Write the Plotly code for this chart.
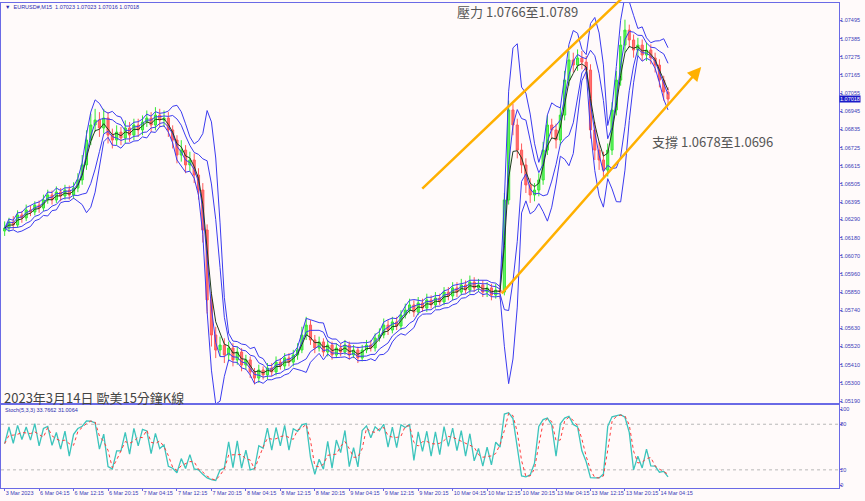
import plotly.graph_objects as go
import pandas as pd

# ---- data (hourly samples) ----
candle_idx = list(range(155))
close = [1.06238, 1.06274, 1.06256, 1.06317, 1.06299, 1.06347, 1.06335, 1.06377, 1.06359, 1.06408,
         1.06438, 1.06408, 1.06456, 1.06432, 1.06468, 1.06438, 1.06480, 1.06529, 1.06620, 1.06771,
         1.06862, 1.06892, 1.06844, 1.06904, 1.06801, 1.06771, 1.06819, 1.06783, 1.06844, 1.06801,
         1.06862, 1.06832, 1.06880, 1.06904, 1.06862, 1.06922, 1.06892, 1.06904, 1.06832, 1.06771,
         1.06680, 1.06710, 1.06620, 1.06650, 1.06559, 1.06468, 1.06226, 1.05802, 1.05590, 1.05499,
         1.05529, 1.05469, 1.05511, 1.05439, 1.05487, 1.05408, 1.05439, 1.05366, 1.05329, 1.05378,
         1.05348, 1.05390, 1.05366, 1.05426, 1.05402, 1.05451, 1.05426, 1.05469, 1.05499, 1.05590,
         1.05650, 1.05560, 1.05511, 1.05548, 1.05487, 1.05529, 1.05469, 1.05511, 1.05487, 1.05529,
         1.05469, 1.05499, 1.05451, 1.05499, 1.05529, 1.05511, 1.05572, 1.05590, 1.05650, 1.05620,
         1.05669, 1.05644, 1.05711, 1.05741, 1.05772, 1.05729, 1.05784, 1.05753, 1.05802, 1.05772,
         1.05814, 1.05790, 1.05850, 1.05826, 1.05875, 1.05850, 1.05893, 1.05862, 1.05911, 1.05875,
         1.05893, 1.05850, 1.05875, 1.05832, 1.05862, 1.05850, 1.06408, 1.06953, 1.06862, 1.06710,
         1.06620, 1.06499, 1.06438, 1.06468, 1.06529, 1.06710, 1.06862, 1.06832, 1.06771, 1.06922,
         1.07134, 1.07256, 1.07225, 1.07268, 1.07243, 1.07195, 1.06832, 1.06710, 1.06650, 1.06589,
         1.06710, 1.06953, 1.07134, 1.07346, 1.07437, 1.07377, 1.07316, 1.07346, 1.07286, 1.07316,
         1.07268, 1.07225, 1.07134, 1.07062, 1.07019]
high = [1.06278, 1.06300, 1.06310, 1.06345, 1.06340, 1.06380, 1.06375, 1.06400, 1.06405, 1.06440,
        1.06470, 1.06465, 1.06490, 1.06480, 1.06500, 1.06495, 1.06515, 1.06570, 1.06680, 1.06830,
        1.06930, 1.06960, 1.06940, 1.06960, 1.06940, 1.06840, 1.06860, 1.06850, 1.06890, 1.06880,
        1.06900, 1.06900, 1.06920, 1.06950, 1.06940, 1.06970, 1.06960, 1.06950, 1.06940, 1.06860,
        1.06800, 1.06770, 1.06740, 1.06700, 1.06690, 1.06600, 1.06510, 1.06260, 1.05850, 1.05640,
        1.05580, 1.05570, 1.05550, 1.05540, 1.05520, 1.05510, 1.05470, 1.05460, 1.05390, 1.05410,
        1.05400, 1.05420, 1.05420, 1.05460, 1.05450, 1.05480, 1.05480, 1.05500, 1.05540, 1.05640,
        1.05700, 1.05680, 1.05590, 1.05580, 1.05570, 1.05560, 1.05550, 1.05540, 1.05540, 1.05560,
        1.05550, 1.05530, 1.05520, 1.05530, 1.05560, 1.05560, 1.05600, 1.05630, 1.05690, 1.05680,
        1.05700, 1.05700, 1.05740, 1.05780, 1.05810, 1.05800, 1.05820, 1.05810, 1.05840, 1.05830,
        1.05850, 1.05840, 1.05880, 1.05880, 1.05910, 1.05910, 1.05930, 1.05920, 1.05950, 1.05940,
        1.05930, 1.05920, 1.05910, 1.05900, 1.05900, 1.05900, 1.06450, 1.07010, 1.06990, 1.06900,
        1.06750, 1.06660, 1.06540, 1.06510, 1.06570, 1.06760, 1.06920, 1.06900, 1.06870, 1.06970,
        1.07190, 1.07310, 1.07300, 1.07320, 1.07310, 1.07280, 1.07230, 1.06880, 1.06760, 1.06700,
        1.06750, 1.07000, 1.07190, 1.07400, 1.07500, 1.07470, 1.07410, 1.07390, 1.07380, 1.07360,
        1.07350, 1.07300, 1.07260, 1.07160, 1.07090]
low = [1.06190, 1.06215, 1.06230, 1.06240, 1.06270, 1.06280, 1.06310, 1.06315, 1.06330, 1.06340,
       1.06385, 1.06380, 1.06390, 1.06400, 1.06410, 1.06410, 1.06415, 1.06455, 1.06500, 1.06590,
       1.06740, 1.06820, 1.06790, 1.06810, 1.06750, 1.06720, 1.06740, 1.06740, 1.06750, 1.06760,
       1.06770, 1.06790, 1.06800, 1.06850, 1.06820, 1.06830, 1.06850, 1.06850, 1.06790, 1.06720,
       1.06630, 1.06640, 1.06570, 1.06580, 1.06510, 1.06410, 1.06150, 1.05720, 1.05520, 1.05450,
       1.05460, 1.05420, 1.05430, 1.05400, 1.05410, 1.05370, 1.05380, 1.05330, 1.05290, 1.05300,
       1.05320, 1.05320, 1.05340, 1.05345, 1.05380, 1.05380, 1.05400, 1.05400, 1.05440, 1.05480,
       1.05560, 1.05530, 1.05480, 1.05490, 1.05460, 1.05460, 1.05440, 1.05450, 1.05460, 1.05470,
       1.05440, 1.05450, 1.05420, 1.05430, 1.05480, 1.05490, 1.05490, 1.05550, 1.05570, 1.05590,
       1.05600, 1.05620, 1.05620, 1.05690, 1.05720, 1.05700, 1.05710, 1.05730, 1.05730, 1.05750,
       1.05750, 1.05770, 1.05770, 1.05800, 1.05800, 1.05820, 1.05830, 1.05840, 1.05840, 1.05850,
       1.05850, 1.05820, 1.05820, 1.05800, 1.05810, 1.05810, 1.05830, 1.06380, 1.06800, 1.06660,
       1.06570, 1.06450, 1.06390, 1.06400, 1.06430, 1.06500, 1.06680, 1.06780, 1.06720, 1.06740,
       1.06890, 1.07100, 1.07180, 1.07190, 1.07200, 1.07140, 1.06780, 1.06650, 1.06590, 1.06540,
       1.06550, 1.06680, 1.06920, 1.07100, 1.07300, 1.07330, 1.07270, 1.07280, 1.07250, 1.07250,
       1.07230, 1.07180, 1.07090, 1.07010, 1.06990]
first_open = 1.06220

tick_pos = [0, 8, 16, 24, 32, 40, 48, 56, 64, 72, 80, 88, 96, 104, 112, 120, 128, 136, 144, 152]
tick_text = ["3 Mar 2023", "6 Mar 04:15", "6 Mar 12:15", "6 Mar 20:15", "7 Mar 04:15", "7 Mar 12:15",
             "7 Mar 20:15", "8 Mar 04:15", "8 Mar 12:15", "8 Mar 20:15", "9 Mar 04:15", "9 Mar 12:15",
             "9 Mar 20:15", "10 Mar 04:15", "10 Mar 12:15", "10 Mar 20:15", "13 Mar 04:15",
             "13 Mar 12:15", "13 Mar 20:15", "14 Mar 04:15"]
price_ticks = [1.05190, 1.05300, 1.05410, 1.05520, 1.05630, 1.05740, 1.05850, 1.05960, 1.06070,
               1.06180, 1.06290, 1.06395, 1.06505, 1.06615, 1.06725, 1.06835, 1.06945, 1.07055,
               1.07165, 1.07275, 1.07385, 1.07495]
stoch_ticks = [0, 20, 80, 100]
last_price = 1.07018

# ---- derived series ----
s = pd.Series(close)
opens = [first_open] + close[:-1]

mid = s.rolling(5, min_periods=1).mean()
sd = s.rolling(5, min_periods=1).std(ddof=0).fillna(0)
bb_up, bb_lo = mid + 2 * sd, mid - 2 * sd
in_up, in_lo = mid + 1 * sd, mid - 1 * sd
ma_dark = s.ewm(span=3, adjust=False).mean()

hh = pd.Series(high).rolling(3, min_periods=1).max()
ll = pd.Series(low).rolling(3, min_periods=1).min()
raw_k = ((s - ll) / (hh - ll).replace(0, 1e-9) * 100).clip(0, 100)
k_line = raw_k
d_line = k_line.rolling(2, min_periods=1).mean()

BLUE = "#3b3bf0"
AX = "#6a6ae6"
TXT = "#3a3ab8"
FONT = "Liberation Sans, sans-serif"

fig = go.Figure()
fig.add_trace(go.Candlestick(x=candle_idx, open=opens, high=high, low=low, close=close,
                             increasing=dict(line=dict(color="#33e833", width=1), fillcolor="#66f066"),
                             decreasing=dict(line=dict(color="#ff5a5a", width=1), fillcolor="#ff7070"),
                             whiskerwidth=0, xaxis="x", yaxis="y", showlegend=False))
for ser, col, w in [(bb_up, BLUE, 1), (bb_lo, BLUE, 1), (in_up, BLUE, 1), (in_lo, BLUE, 1),
                    (ma_dark, "#1f3b1f", 1)]:
    fig.add_trace(go.Scatter(x=candle_idx, y=ser, mode="lines", line=dict(color=col, width=w),
                             xaxis="x", yaxis="y", showlegend=False, hoverinfo="skip"))

fig.add_trace(go.Scatter(x=candle_idx, y=k_line, mode="lines", line=dict(color="#3cc4bc", width=1.3),
                         xaxis="x2", yaxis="y2", showlegend=False))
fig.add_trace(go.Scatter(x=candle_idx, y=d_line, mode="lines", line=dict(color="#ff3b3b", width=1, dash="dot"),
                         xaxis="x2", yaxis="y2", showlegend=False))

xr = [-0.84, 193.7]
common = dict(showgrid=False, zeroline=False, showline=True, linecolor=AX, mirror=True, automargin=False)
fig.update_layout(
    width=865, height=501, margin=dict(l=0, r=0, t=0, b=0, autoexpand=False),
    paper_bgcolor="#fffafa", plot_bgcolor="#fffafa",
    font=dict(family=FONT, size=5.5, color=TXT),
    xaxis=dict(domain=[0.0012, 0.9700], range=xr, showticklabels=False, ticks="",
               rangeslider=dict(visible=False), anchor="y", **common),
    yaxis=dict(domain=[0.1956, 0.9940], range=[1.05178, 1.07601], side="right",
               tickvals=price_ticks, ticktext=[f"{v:.5f}" for v in price_ticks],
               ticks="outside", ticklen=2, tickcolor=AX, ticklabelstandoff=-3,
               tickfont=dict(size=5.5, color=TXT), anchor="x", **common),
    xaxis2=dict(domain=[0.0012, 0.9700], range=xr, tickvals=tick_pos, ticktext=tick_text,
                ticks="outside", ticklen=2, tickcolor=AX, ticklabelposition="outside right", tickangle=0,
                ticklabelstandoff=-1, tickfont=dict(size=5.5, color=TXT), anchor="y2", **common),
    yaxis2=dict(domain=[0.0259, 0.1916], range=[-3.9, 105.3], side="right",
                tickvals=stoch_ticks, ticktext=[str(v) for v in stoch_ticks],
                ticks="outside", ticklen=2, tickcolor=AX, ticklabelstandoff=-3,
                tickfont=dict(size=5.5, color=TXT), anchor="x2", **common),
)

for lvl in (20, 80):
    fig.add_shape(type="line", xref="x2", yref="y2", x0=xr[0], x1=xr[1], y0=lvl, y1=lvl,
                  line=dict(color="#b8b8b8", width=1, dash="dot"), layer="below")

# orange channel arrows
fig.add_annotation(x=144.1, y=1.07649, ax=96.6, ay=1.06468, xref="x", yref="y", axref="x", ayref="y",
                   showarrow=True, arrowhead=0, arrowwidth=2.5, arrowcolor="#ffb000", text="")
fig.add_annotation(x=161.7, y=1.07213, ax=115.1, ay=1.05832, xref="x", yref="y", axref="x", ayref="y",
                   showarrow=True, arrowhead=2, arrowsize=1.1, arrowwidth=2.5, arrowcolor="#ffb000", text="")

CJK = "Noto Sans CJK TC, sans-serif"
fig.add_annotation(x=455, y=12, xref="paper", yref="paper", text="壓力 1.0766至1.0789", showarrow=False,
                   xanchor="left", yanchor="middle", font=dict(family=CJK, size=13, color="#555555"))
fig.add_annotation(x=650, y=141, xref="paper", yref="paper", text="支撐 1.0678至1.0696", showarrow=False,
                   xanchor="left", yanchor="middle", font=dict(family=CJK, size=13, color="#555555"))
fig.add_annotation(x=2, y=397, xref="paper", yref="paper", text="2023年3月14日 歐美15分鐘K線", showarrow=False,
                   xanchor="left", yanchor="middle", font=dict(family=CJK, size=13, color="#444444"))
fig.add_annotation(x=3, y=7, xref="paper", yref="paper", text="▼  EURUSD#,M15  1.07023 1.07023 1.07016 1.07018",
                   showarrow=False, xanchor="left", yanchor="middle", font=dict(size=5.5, color="#2a2ab0"))
fig.add_annotation(x=3, y=410, xref="paper", yref="paper", text="Stoch(5,3,3) 33.7662 31.0064",
                   showarrow=False, xanchor="left", yanchor="middle", font=dict(size=5.5, color="#2a2ab0"))
fig.add_annotation(x=0.9705, y=last_price, xref="paper", yref="y", text=f"{last_price:.5f}", showarrow=False,
                   xanchor="left", yanchor="middle", bgcolor="#1a1ac8", borderpad=0,
                   font=dict(size=5.5, color="#ffffff"))

# convert pixel-placed annotations (x,y in px) to paper coords
for a in fig.layout.annotations:
    if a.xref == "paper" and a.x is not None and a.x > 1.5:
        a.x = a.x / 865.0
    if a.yref == "paper" and a.y is not None and a.y > 1.5:
        a.y = 1 - a.y / 501.0

fig.write_html("out.html", config={"displayModeBar": False},
               post_script="document.body.style.margin='0';document.body.style.overflow='hidden';")
